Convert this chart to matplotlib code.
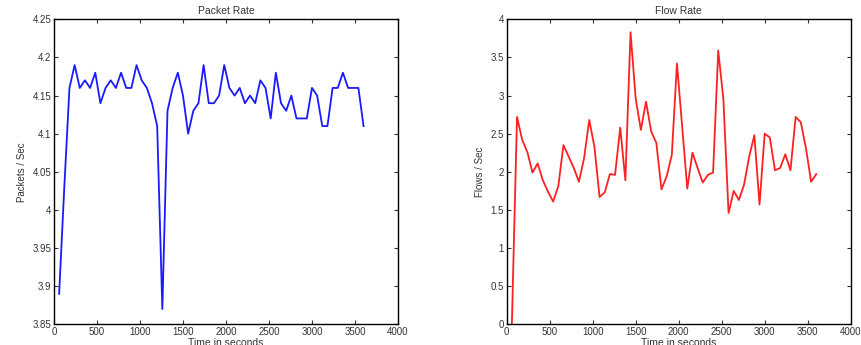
import matplotlib
matplotlib.use('Agg')
import matplotlib.pyplot as plt

plt.rcParams['font.family'] = ['Liberation Sans', 'DejaVu Sans']

# sample times (seconds), one point per minute
time_s = list(range(60, 3601, 60))

packet_rate = [3.89, 4.03, 4.16, 4.19, 4.16, 4.17, 4.16, 4.18, 4.14, 4.16,
               4.17, 4.16, 4.18, 4.16, 4.16, 4.19, 4.17, 4.16, 4.14, 4.11,
               3.87, 4.13, 4.16, 4.18, 4.15, 4.10, 4.13, 4.14, 4.19, 4.14,
               4.14, 4.15, 4.19, 4.16, 4.15, 4.16, 4.14, 4.15, 4.14, 4.17,
               4.16, 4.12, 4.18, 4.14, 4.13, 4.15, 4.12, 4.12, 4.12, 4.16,
               4.15, 4.11, 4.11, 4.16, 4.16, 4.18, 4.16, 4.16, 4.16, 4.11]

flow_rate = [0.0, 2.72, 2.42, 2.26, 1.99, 2.11, 1.89, 1.74, 1.61, 1.81,
             2.35, 2.20, 2.05, 1.87, 2.18, 2.68, 2.33, 1.67, 1.73, 1.97,
             1.96, 2.58, 1.89, 3.83, 2.96, 2.55, 2.92, 2.53, 2.38, 1.77,
             1.94, 2.22, 3.42, 2.60, 1.78, 2.25, 2.05, 1.86, 1.96, 1.99,
             3.59, 2.95, 1.46, 1.75, 1.63, 1.83, 2.20, 2.48, 1.57, 2.50,
             2.45, 2.02, 2.05, 2.23, 2.02, 2.72, 2.65, 2.31, 1.87, 1.97]

x_ticks = [0, 500, 1000, 1500, 2000, 2500, 3000, 3500, 4000]
packet_ticks = [3.85, 3.9, 3.95, 4.0, 4.05, 4.1, 4.15, 4.2, 4.25]
packet_labels = ['3.85', '3.9', '3.95', '4', '4.05', '4.1', '4.15', '4.2', '4.25']
flow_ticks = [0, 0.5, 1, 1.5, 2, 2.5, 3, 3.5, 4]
flow_labels = ['0', '0.5', '1', '1.5', '2', '2.5', '3', '3.5', '4']

fig = plt.figure(figsize=(8.61, 3.45), dpi=100)
ax1 = fig.add_axes([0.0627, 0.06, 0.3995, 0.884])
ax2 = fig.add_axes([0.5885, 0.06, 0.3995, 0.884])


def style(ax, title, ylabel):
    ax.set_xlim(0, 4000)
    ax.set_xticks(x_ticks)
    ax.tick_params(direction='in', top=True, right=True, length=3, width=0.8,
                   labelsize=7, pad=2, colors='#333333')
    for s in ax.spines.values():
        s.set_linewidth(1.0)
        s.set_color('black')
    ax.set_title(title, fontsize=7.5, pad=4, color='#333333')
    ax.set_xlabel('Time in seconds', fontsize=7.5, labelpad=1, color='#333333')
    ax.set_ylabel(ylabel, fontsize=7, labelpad=4, color='#333333')


ax1.plot(time_s, packet_rate, color='#1a1aff', linewidth=1.3)
ax1.set_ylim(3.85, 4.25)
ax1.set_yticks(packet_ticks)
ax1.set_yticklabels(packet_labels)
style(ax1, 'Packet Rate', 'Packets / Sec')

ax2.plot(time_s, flow_rate, color='#ff2020', linewidth=1.3)
ax2.set_ylim(0, 4)
ax2.set_yticks(flow_ticks)
ax2.set_yticklabels(flow_labels)
style(ax2, 'Flow Rate', 'Flows / Sec')

fig.savefig('out.png', dpi=100)
